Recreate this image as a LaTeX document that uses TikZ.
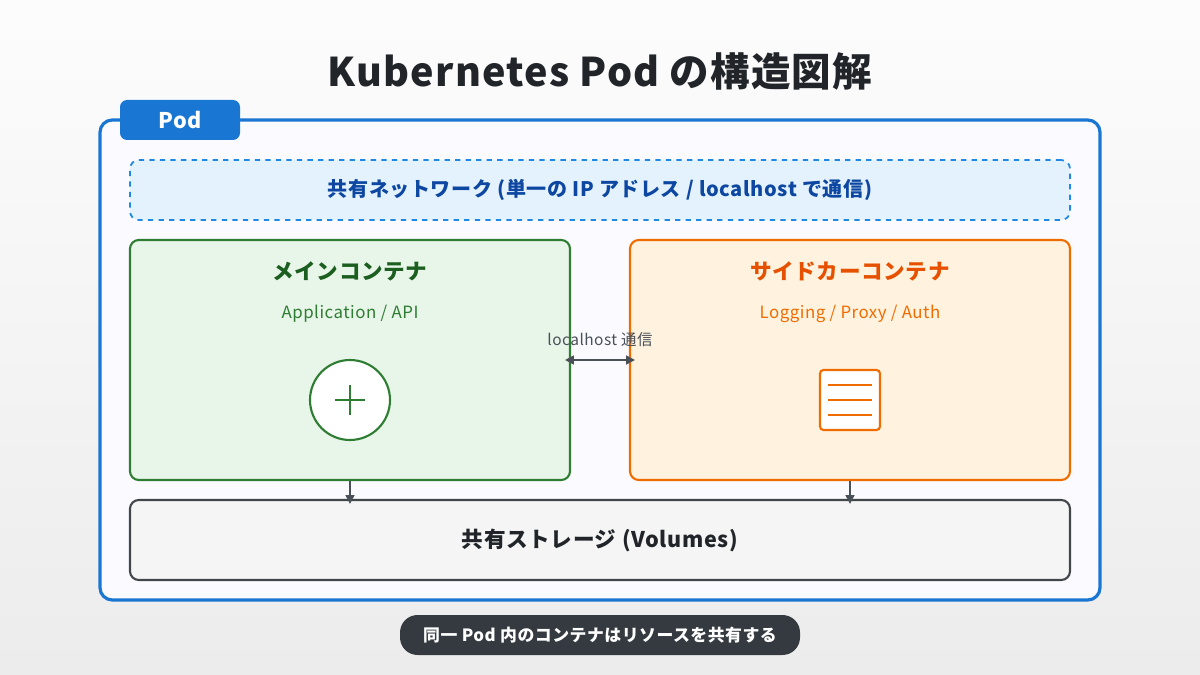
\documentclass[tikz,border=0pt]{standalone}
\usepackage{fontspec}
\setmainfont{Noto Sans CJK JP}[LetterSpace=3]
\usetikzlibrary{positioning,arrows.meta}
\definecolor{podblue}{HTML}{1976D2}
\definecolor{netblue}{HTML}{1E88E5}
\definecolor{netfill}{HTML}{E3F2FD}
\definecolor{nettext}{HTML}{0D47A1}
\definecolor{mainfill}{HTML}{E8F5E9}
\definecolor{maingreen}{HTML}{2E7D32}
\definecolor{maindark}{HTML}{1B5E20}
\definecolor{sidefill}{HTML}{FFF3E0}
\definecolor{sideorange}{HTML}{EF6C00}
\definecolor{sidedark}{HTML}{E65100}
\definecolor{inkgray}{HTML}{495057}
\definecolor{titleink}{HTML}{212529}
\definecolor{pillgray}{HTML}{343A40}
\tikzset{
  box/.style={draw, rounded corners=5pt, line width=1.2pt, inner sep=0pt},
  boxtitle/.style={font=\fontsize{12.3}{14}\selectfont\bfseries},
  boxsub/.style={font=\fontsize{9.6}{11}\selectfont},
  flow/.style={-{Triangle[length=5pt,width=5pt]}, draw=inkgray, line width=1pt},
}
\begin{document}
\begin{tikzpicture}[x=0.02cm,y=-0.02cm]
\shade[top color=white!60!gray!5, bottom color=gray!15] (0,0) rectangle (1200,675);
\useasboundingbox (0,0) rectangle (1200,675);
\node[font=\fontsize{22.5}{26}\selectfont\bfseries, text=titleink] (title) at (600,72) {Kubernetes Pod の構造図解};
% pod frame
\node[box, draw=podblue, fill=blue!2, line width=1.8pt, rounded corners=7pt,
  minimum width=1000*0.02cm, minimum height=480*0.02cm] (pod) at (600,360) {};
\node[fill=podblue, rounded corners=4pt, text=white, font=\fontsize{12.3}{14}\selectfont\bfseries,
  minimum width=120*0.02cm, minimum height=40*0.02cm] (podtab) at (180,120) {Pod};
% network
\node[box, draw=netblue, fill=netfill, dashed, line width=1pt, text=nettext,
  font=\fontsize{11.4}{13}\selectfont\bfseries,
  minimum width=940*0.02cm, minimum height=60*0.02cm] (net) at (600,190)
  {共有ネットワーク (単一の IP アドレス / localhost で通信)};
% containers
\node[box, draw=maingreen, fill=mainfill, minimum width=440*0.02cm, minimum height=240*0.02cm] (main) at (350,360) {};
\node[boxtitle, text=maindark] (maintitle) at (350,271) {メインコンテナ};
\node[boxsub, text=maingreen] (mainsub) at (350,314) {Application / API};
\node[circle, draw=maingreen, fill=white, line width=1.2pt, minimum size=80*0.02cm] (appicon) at (350,400) {};
\draw[maingreen, line width=1.5pt] (335,400) -- (365,400) (350,385) -- (350,415);
\node[box, draw=sideorange, fill=sidefill, minimum width=440*0.02cm, minimum height=240*0.02cm] (side) at (850,360) {};
\node[boxtitle, text=sidedark] (sidetitle) at (850,271) {サイドカーコンテナ};
\node[boxsub, text=sideorange] (sidesub) at (850,314) {Logging / Proxy / Auth};
\node[draw=sideorange, fill=white, rounded corners=2pt, line width=1.2pt, minimum width=60*0.02cm, minimum height=60*0.02cm] (logicon) at (850,400) {};
\foreach \ly in {385,400,415}
  \draw[sideorange, line width=1pt] (828,\ly) -- (872,\ly);
% link
\coordinate (linkl) at (565,360);
\coordinate (linkr) at (635,360);
\draw[flow, {Triangle[length=5pt,width=5pt]}-{Triangle[length=5pt,width=5pt]}] (linkl) -- (linkr);
\node[font=\fontsize{8.8}{10}\selectfont, text=inkgray] (linklabel) at (600,340) {localhost 通信};
% storage
\node[box, draw=titleink!85, fill=gray!8, text=titleink, font=\fontsize{12.3}{14}\selectfont\bfseries,
  minimum width=940*0.02cm, minimum height=80*0.02cm] (store) at (600,540) {共有ストレージ (Volumes)};
\draw[flow] (main.south) -- ([yshift=-0.1cm]main.south |- store.north);
\draw[flow] (side.south) -- ([yshift=-0.1cm]side.south |- store.north);
% footer
\node[fill=pillgray, text=white, rounded corners=10pt, font=\fontsize{9.6}{11}\selectfont\bfseries,
  minimum width=400*0.02cm, minimum height=40*0.02cm] (note) at (600,635) {同一 Pod 内のコンテナはリソースを共有する};
\end{tikzpicture}
\end{document}
